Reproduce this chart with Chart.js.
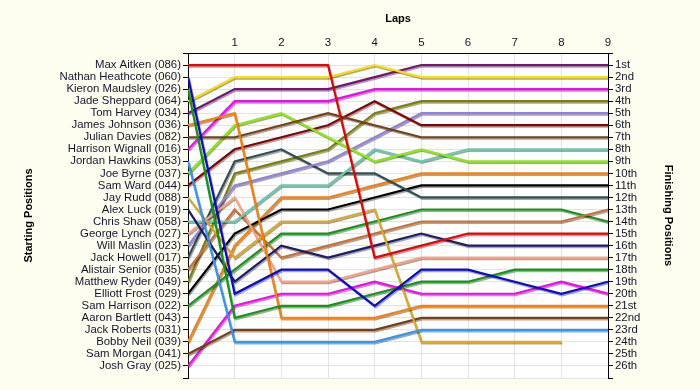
<!DOCTYPE html>
<html>
<head>
<meta charset="utf-8">
<script src="https://cdn.jsdelivr.net/npm/chart.js@4"></script>
<style>
  html, body { margin: 0; padding: 0; background: #fdfdf0; }
  #wrap { width: 700px; height: 390px; }
</style>
</head>
<body>
<div id="wrap"><canvas id="c" width="700" height="390"></canvas></div>
<script>
// ---- data ----
const laps = [0, 1, 2, 3, 4, 5, 6, 7, 8, 9];
const startingNames = [
  'Max Aitken (086)', 'Nathan Heathcote (060)', 'Kieron Maudsley (026)', 'Jade Sheppard (064)',
  'Tom Harvey (034)', 'James Johnson (036)', 'Julian Davies (082)', 'Harrison Wignall (016)',
  'Jordan Hawkins (053)', 'Joe Byrne (037)', 'Sam Ward (044)', 'Jay Rudd (088)',
  'Alex Luck (019)', 'Chris Shaw (058)', 'George Lynch (027)', 'Will Maslin (023)',
  'Jack Howell (017)', 'Alistair Senior (035)', 'Matthew Ryder (049)', 'Elliott Frost (029)',
  'Sam Harrison (022)', 'Aaron Bartlett (043)', 'Jack Roberts (031)', 'Bobby Neil (039)',
  'Sam Morgan (041)', 'Josh Gray (025)'
];
const finishLabels = ['1st','2nd','3rd','4th','5th','6th','7th','8th','9th','10th','11th','12th','13th',
  '14th','15th','16th','17th','18th','19th','20th','21st','22nd','23rd','24th','25th','26th'];

// position after each lap (lap 0 = grid)
const maxAitken       = [1, 1, 1, 1, 17, 16, 15, 15, 15, 15];
const nathanHeathcote = [2, 20, 18, 18, 21, 18, 18, 19, 20, 19];
const kieronMaudsley  = [3, 22, 21, 21, 20, 19, 19, 18, 18, 18];
const jadeSheppard    = [4, 2, 2, 2, 1, 2, 2, 2, 2, 2];
const tomHarvey       = [5, 3, 3, 3, 2, 1, 1, 1, 1, 1];
const jamesJohnson    = [6, 5, 22, 22, 22, 21, 21, 21, 21, 21];
const julianDavies    = [7, 7, 6, 5, 6, 7, 7, 7, 7, 7];
const harrisonWignall = [8, 4, 4, 4, 3, 3, 3, 3, 3, 3];
const jordanHawkins   = [9, 24, 24, 24, 24, 23, 23, 23, 23, 23];
const joeByrne        = [10, 6, 5, 7, 9, 8, 9, 9, 9, 9];
const samWard         = [11, 8, 7, 6, 4, 6, 6, 6, 6, 6];
const jayRudd         = [12, 17, 14, 14, 13, 24, 24, 24, 24, null];
const alexLuck        = [13, 19, 16, 17, 16, 15, 16, 16, 16, 16];
const chrisShaw       = [14, 14, 11, 11, 8, 9, 8, 8, 8, 8];
const georgeLynch     = [15, 12, 19, 19, 18, 17, 17, 17, 17, 17];
const willMaslin      = [16, 11, 10, 9, 7, 5, 5, 5, 5, 5];
const jackHowell      = [17, 9, 8, 10, 10, 12, 12, 12, 12, 12];
const alistairSenior  = [18, 13, 17, 16, 15, 14, 14, 14, 14, 13];
const matthewRyder    = [19, 10, 9, 8, 5, 4, 4, 4, 4, 4];
const elliottFrost    = [20, 15, 13, 13, 12, 11, 11, 11, 11, 11];
const samHarrison     = [21, 18, 15, 15, 14, 13, 13, 13, 13, 14];
const aaronBartlett   = [];
const jackRoberts     = [];
const bobbyNeil       = [24, 16, 12, 12, 11, 10, 10, 10, 10, 10];
const samMorgan       = [25, 23, 23, 23, 23, 22, 22, 22, 22, 22];
const joshGray        = [26, 21, 20, 20, 19, 20, 20, 20, 19, 20];

const driverSeries = [maxAitken, nathanHeathcote, kieronMaudsley, jadeSheppard, tomHarvey,
  jamesJohnson, julianDavies, harrisonWignall, jordanHawkins, joeByrne, samWard, jayRudd,
  alexLuck, chrisShaw, georgeLynch, willMaslin, jackHowell, alistairSenior, matthewRyder,
  elliottFrost, samHarrison, aaronBartlett, jackRoberts, bobbyNeil, samMorgan, joshGray];

// ---- styles ----
const lineColors = ['#ee0000', '#0a0ad0', '#119911', '#ffe000', '#7a107a', '#ff8000', '#7a4010',
  '#ff00ff', '#3396f0', '#88ee00', '#880000', '#ddaa22', '#1c1c6c', '#66ccaa', '#ffa080',
  '#9282e0', '#2f5050', '#d07030', '#808000', '#000000', '#119911', '#999999', '#999999',
  '#ff8000', '#7a4010', '#ff00ff'];

const datasets = driverSeries.map((s, i) => ({
  label: startingNames[i],
  data: s.map((v, k) => ({ x: laps[k], y: v })),
  borderColor: lineColors[i],
  backgroundColor: lineColors[i],
  borderWidth: 2.2,
  pointRadius: 0,
  tension: 0,
  fill: false,
  spanGaps: false
}));

const bgPlugin = {
  id: 'bg',
  beforeDraw(chart) {
    const { ctx, chartArea: a } = chart;
    ctx.save();
    ctx.fillStyle = '#fdfdf0';
    ctx.fillRect(0, 0, chart.width, chart.height);
    ctx.fillStyle = '#ffffff';
    ctx.fillRect(a.left, a.top, a.right - a.left, a.bottom - a.top);
    ctx.restore();
  }
};
const shadowPlugin = {
  id: 'shadow',
  beforeDatasetDraw(chart) {
    const ctx = chart.ctx;
    ctx.save();
    ctx.shadowColor = 'rgba(0,0,0,0.35)';
    ctx.shadowOffsetX = 1;
    ctx.shadowOffsetY = 1.5;
    ctx.shadowBlur = 0;
  },
  afterDatasetDraw(chart) { chart.ctx.restore(); }
};

const labelFont = { family: '"Liberation Sans", Arial, sans-serif', size: 11.4 };
const titleFont = { family: '"Liberation Sans", Arial, sans-serif', size: 11, weight: 'bold' };
const textColor = '#14142e';
const gridColor = '#e3e3e3';

new Chart(document.getElementById('c'), {
  type: 'line',
  data: { datasets },
  plugins: [bgPlugin, shadowPlugin],
  options: {
    responsive: false,
    devicePixelRatio: 1,
    animation: false,
    layout: { padding: { top: 0, left: 0, right: 0, bottom: 12 } },
    plugins: { legend: { display: false }, tooltip: { enabled: false } },
    scales: {
      x: {
        type: 'linear', position: 'top', min: 0, max: 9,
        afterFit(scale) { scale.height = 53; },
        ticks: {
          stepSize: 1, autoSkip: false, padding: 3, color: textColor, font: labelFont,
          callback: v => (v === 0 ? '' : String(v))
        },
        grid: { color: gridColor, drawTicks: false },
        border: { display: true, color: '#000', width: 1 },
        title: { display: true, text: 'Laps', color: '#000', font: titleFont, padding: { top: 12, bottom: 0 } }
      },
      y: {
        type: 'linear', position: 'left', min: 0, max: 27, reverse: true,
        afterFit(scale) { scale.width = 188; },
        ticks: {
          stepSize: 1, autoSkip: false, padding: 2, color: textColor, font: labelFont,
          callback: v => (v >= 1 && v <= startingNames.length ? startingNames[v - 1] : '')
        },
        grid: { color: gridColor, tickColor: '#000', tickLength: 5 },
        border: { display: true, color: '#000', width: 1 },
        title: { display: true, text: 'Starting Positions', color: '#000', font: titleFont, padding: { top: 22, bottom: 0 } }
      },
      y2: {
        type: 'linear', position: 'right', min: 0, max: 27, reverse: true,
        afterFit(scale) { scale.width = 92; },
        ticks: {
          stepSize: 1, autoSkip: false, padding: 2, color: textColor, font: labelFont,
          callback: v => (v >= 1 && v <= finishLabels.length ? finishLabels[v - 1] : '')
        },
        grid: { drawOnChartArea: false, tickColor: '#000', tickLength: 5 },
        border: { display: true, color: '#000', width: 1 },
        title: { display: true, text: 'Finishing Positions', color: '#000', font: titleFont, padding: { top: 25, bottom: 0 } }
      }
    }
  }
});
</script>
</body>
</html>
